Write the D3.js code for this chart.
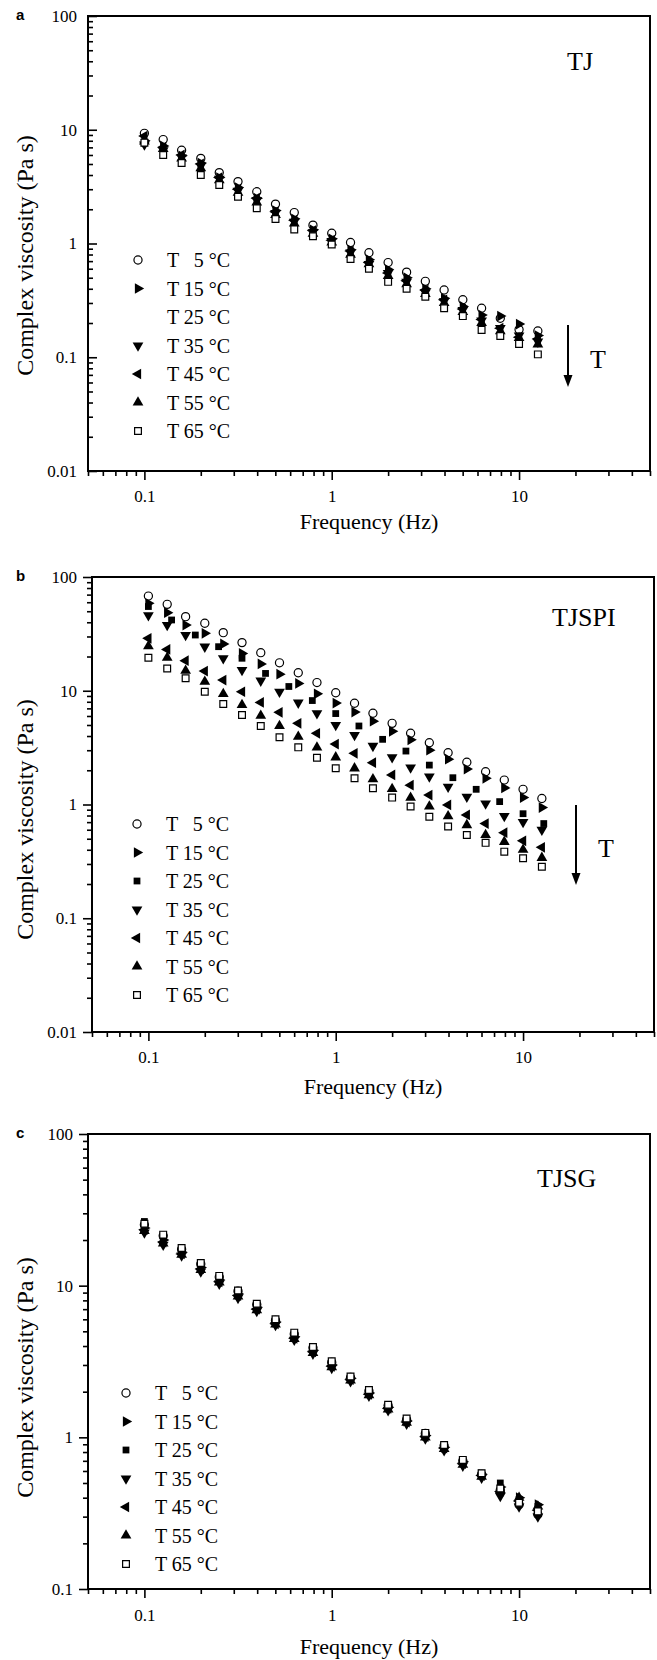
<!DOCTYPE html>
<html>
<head>
<meta charset="utf-8">
<script src="https://cdn.jsdelivr.net/npm/d3@7"></script>
<style>
  body { margin: 0; background: #fff; }
  svg text { font-family: "Liberation Serif", "Times New Roman", serif; fill: #000; }
  .tag { font-family: "Liberation Sans", Arial, sans-serif; font-weight: bold; }
</style>
</head>
<body>
<svg id="chart" width="657" height="1660"></svg>
<script>
// frequencies (Hz), 10 points per decade
const freq = [0.1, 0.126, 0.158, 0.2, 0.251, 0.316, 0.398, 0.501, 0.631, 0.794, 1, 1.26, 1.58, 2, 2.51, 3.16, 3.98, 5.01, 6.31, 7.94, 10, 12.6];
// TJSPI at 25 C was sampled on a coarser grid
const freqSpi25 = [0.1, 0.133, 0.178, 0.237, 0.316, 0.422, 0.562, 0.75, 1, 1.33, 1.78, 2.37, 3.16, 4.22, 5.62, 7.5, 10, 12.9];

const temps = [5, 15, 25, 35, 45, 55, 65];
const xTicks = [0.1, 1, 10];
const yTicksWide = [0.01, 0.1, 1, 10, 100];
const yTicksNarrow = [0.1, 1, 10, 100];

// panel a : TJ (no 25 C series in the figure)
const tj5  = [9.3, 8.2, 6.6, 5.6, 4.2, 3.5, 2.85, 2.22, 1.87, 1.45, 1.23, 1.02, 0.83, 0.68, 0.56, 0.465, 0.39, 0.32, 0.27, 0.22, 0.175, 0.17];
const tj15 = [8.0, 7.2, 5.9, 5.1, 3.8, 3.1, 2.5, 1.95, 1.65, 1.32, 1.1, 0.88, 0.72, 0.59, 0.5, 0.4, 0.33, 0.28, 0.235, 0.23, 0.196, 0.155];
const tj35 = [7.4, 6.6, 5.7, 4.8, 3.7, 2.9, 2.4, 1.85, 1.55, 1.25, 1.05, 0.83, 0.66, 0.55, 0.46, 0.37, 0.31, 0.26, 0.21, 0.18, 0.155, 0.137];
const tj45 = [8.8, 7.0, 6.0, 5.0, 3.8, 3.0, 2.5, 1.9, 1.6, 1.3, 1.07, 0.86, 0.68, 0.55, 0.47, 0.39, 0.32, 0.265, 0.215, 0.18, 0.15, 0.145];
const tj55 = [7.9, 6.8, 5.6, 4.6, 3.6, 2.8, 2.3, 1.78, 1.5, 1.22, 1.02, 0.8, 0.66, 0.52, 0.44, 0.36, 0.3, 0.25, 0.2, 0.17, 0.148, 0.13];
const tj65 = [7.7, 6.0, 5.1, 4.0, 3.27, 2.58, 2.04, 1.64, 1.33, 1.16, 0.98, 0.73, 0.6, 0.46, 0.4, 0.34, 0.27, 0.23, 0.174, 0.154, 0.131, 0.106];

// panel b : TJSPI
const spi5  = [68, 57.5, 44.8, 39.2, 32.4, 26.5, 21.6, 17.6, 14.4, 11.8, 9.6, 7.76, 6.34, 5.17, 4.23, 3.49, 2.85, 2.35, 1.94, 1.64, 1.36, 1.13];
const spi15 = [58.7, 48.6, 37.8, 32.0, 25.8, 21.3, 17.2, 14.0, 11.6, 9.4, 7.8, 6.5, 5.4, 4.4, 3.7, 3.0, 2.5, 2.05, 1.7, 1.4, 1.15, 0.94];
const spi25 = [55, 41.9, 30.9, 24.4, 19.3, 14.2, 10.9, 8.2, 6.3, 4.9, 3.74, 2.95, 2.22, 1.72, 1.36, 1.06, 0.83, 0.68];
const spi35 = [46, 37.8, 30.9, 24.4, 19.3, 15.2, 12.25, 9.8, 7.85, 6.34, 5.0, 4.08, 3.27, 2.6, 2.11, 1.76, 1.43, 1.17, 1.02, 0.79, 0.7, 0.6];
const spi45 = [28.9, 23.1, 18.4, 14.9, 12.4, 9.8, 7.9, 6.46, 5.17, 4.23, 3.4, 2.82, 2.33, 1.82, 1.48, 1.21, 0.99, 0.81, 0.68, 0.565, 0.48, 0.42];
const spi55 = [24.7, 19.5, 15.0, 12.0, 9.36, 7.5, 6.03, 4.9, 3.94, 3.18, 2.6, 2.08, 1.67, 1.37, 1.15, 0.96, 0.79, 0.66, 0.54, 0.47, 0.4, 0.34];
const spi65 = [19.5, 15.7, 12.9, 9.8, 7.65, 6.12, 4.9, 3.9, 3.18, 2.58, 2.08, 1.7, 1.39, 1.15, 0.96, 0.78, 0.64, 0.54, 0.46, 0.385, 0.337, 0.284];

// panel c : TJSG
const sg5  = [25.2, 21.3, 17.4, 13.9, 11.4, 9.2, 7.5, 5.9, 4.8, 3.9, 3.12, 2.48, 2.02, 1.62, 1.31, 1.06, 0.88, 0.70, 0.57, 0.45, 0.36, 0.31];
const sg15 = [24.0, 20.0, 16.6, 13.2, 10.9, 8.8, 7.2, 5.75, 4.6, 3.75, 3.0, 2.45, 1.96, 1.58, 1.28, 1.03, 0.86, 0.69, 0.57, 0.47, 0.40, 0.36];
const sg25 = [26.5, 20.5, 17.0, 13.5, 11.1, 9.0, 7.3, 5.85, 4.7, 3.8, 3.05, 2.48, 2.0, 1.6, 1.3, 1.05, 0.87, 0.70, 0.58, 0.50, 0.39, 0.35];
const sg35 = [22.4, 18.6, 15.8, 12.4, 10.3, 8.3, 6.8, 5.5, 4.4, 3.56, 2.86, 2.34, 1.88, 1.51, 1.23, 0.98, 0.82, 0.65, 0.54, 0.41, 0.35, 0.30];
const sg45 = [23.4, 19.4, 16.2, 12.9, 10.6, 8.6, 7.0, 5.6, 4.5, 3.66, 2.94, 2.4, 1.92, 1.55, 1.26, 1.01, 0.85, 0.67, 0.56, 0.44, 0.38, 0.33];
const sg55 = [23.0, 19.0, 16.0, 12.7, 10.5, 8.5, 6.9, 5.55, 4.45, 3.6, 2.9, 2.37, 1.9, 1.53, 1.25, 1.0, 0.84, 0.66, 0.55, 0.45, 0.40, 0.35];
const sg65 = [25.6, 21.7, 17.7, 14.1, 11.6, 9.3, 7.6, 6.0, 4.9, 3.94, 3.17, 2.52, 2.05, 1.64, 1.33, 1.07, 0.89, 0.71, 0.58, 0.46, 0.37, 0.325];

// marker kind per temperature (same order as temps)
const kinds = ["circle", "right", "square", "down", "left", "up", "openSquare"];

const svg = d3.select("#chart");

function markerPath(kind) {
  let type = kind === "circle" ? d3.symbolCircle
    : (kind === "square" || kind === "openSquare") ? d3.symbolSquare
    : d3.symbolTriangle;
  let size = kind === "circle" ? 52 : (kind === "square" || kind === "openSquare") ? 46 : 50;
  return d3.symbol().type(type).size(size)();
}
const rotation = {right: 90, down: 180, left: -90, up: 0};

function drawMarker(g, kind, x, y) {
  let open = kind === "circle" || kind === "openSquare";
  g.append("path")
    .attr("d", markerPath(kind))
    .attr("transform", "translate(" + x + "," + y + ")rotate(" + (rotation[kind] || 0) + ")")
    .attr("fill", open ? "#fff" : "#000")
    .attr("stroke", open ? "#000" : "none")
    .attr("stroke-width", 1.2);
}

function getScales(cfg) {
  let xScale = d3.scaleLog().domain([0.05, 50]).range([cfg.left, cfg.right]);
  let yScale = d3.scaleLog().domain(cfg.yDomain).range([cfg.bottom, cfg.top]);
  return {xScale, yScale};
}

function drawPanel(cfg) {
  let {xScale, yScale} = getScales(cfg);
  let g = svg.append("g").attr("class", "panel-" + cfg.tag);

  // y axis : major + minor ticks
  let yIn = cfg.yTickDir === "in";
  let yMinor = yScale.ticks().filter(v => !cfg.yTicks.some(t => Math.abs(t - v) / t < 1e-6));
  g.append("g")
    .attr("transform", "translate(" + cfg.left + ",0)")
    .call(d3.axisLeft(yScale).tickValues(yMinor).tickFormat("").tickSize(yIn ? -5 : 5).tickSizeOuter(0))
    .call(a => a.select(".domain").remove());
  g.append("g")
    .attr("transform", "translate(" + cfg.left + ",0)")
    .call(d3.axisLeft(yScale).tickValues(cfg.yTicks).tickFormat(d => String(d))
      .tickSize(yIn ? -9 : 9).tickPadding(cfg.yPad).tickSizeOuter(0))
    .call(a => a.select(".domain").remove())
    .call(a => a.selectAll("text").attr("font-size", 17).attr("font-family", null));

  // x axis : ticks point downward
  let xMinor = xScale.ticks().filter(v => !xTicks.some(t => Math.abs(t - v) / t < 1e-6));
  g.append("g")
    .attr("transform", "translate(0," + cfg.bottom + ")")
    .call(d3.axisBottom(xScale).tickValues(xMinor).tickFormat("").tickSize(5).tickSizeOuter(0))
    .call(a => a.select(".domain").remove());
  g.append("g")
    .attr("transform", "translate(0," + cfg.bottom + ")")
    .call(d3.axisBottom(xScale).tickValues(xTicks).tickFormat(d => String(d)).tickSize(9).tickSizeOuter(0))
    .call(a => a.select(".domain").remove())
    .call(a => a.selectAll("text").attr("font-size", 17).attr("font-family", null)
      .attr("dy", null).attr("y", cfg.xLabOff));

  g.selectAll(".tick line").attr("stroke", "#000").attr("stroke-width", 1.6);

  // frame
  g.append("rect")
    .attr("x", cfg.left).attr("y", cfg.top)
    .attr("width", cfg.right - cfg.left).attr("height", cfg.bottom - cfg.top)
    .attr("fill", "none").attr("stroke", "#000").attr("stroke-width", 2);

  // points
  cfg.series.forEach(s => {
    if (!s.values) return;
    s.values.forEach((v, i) => drawMarker(g, s.kind, xScale(s.freq[i]), yScale(v)));
  });

  // axis titles
  g.append("text")
    .attr("x", (cfg.left + cfg.right) / 2).attr("y", cfg.bottom + cfg.titleOff)
    .attr("text-anchor", "middle").attr("font-size", 22)
    .text("Frequency (Hz)");
  g.append("text")
    .attr("transform", "translate(33," + ((cfg.top + cfg.bottom) / 2 + cfg.yTitleDy) + ")rotate(-90)")
    .attr("text-anchor", "middle").attr("font-size", 24)
    .text("Complex viscosity (Pa s)");

  // panel letter and sample name
  g.append("text").attr("class", "tag")
    .attr("x", 16).attr("y", cfg.top + 4).attr("font-size", 15)
    .text(cfg.tag);
  g.append("text")
    .attr("x", cfg.nameX).attr("y", cfg.top + cfg.nameDy).attr("font-size", 26)
    .text(cfg.name);

  // legend
  cfg.series.forEach((s, i) => {
    let y = cfg.legY + i * 28.5;
    if (s.showMarker) drawMarker(g, s.kind, cfg.legX, y);
    let t = g.append("text").attr("x", cfg.legX + 29).attr("y", y + 7).attr("font-size", 20);
    t.text("T " + (s.temp < 10 ? "\u2007" : "") + s.temp + " \u00B0C");
  });

  // decreasing-with-temperature arrow
  if (cfg.arrow) {
    let {x, y1, y2} = cfg.arrow;
    g.append("line").attr("x1", x).attr("x2", x).attr("y1", y1).attr("y2", y2 - 8)
      .attr("stroke", "#000").attr("stroke-width", 2);
    g.append("path")
      .attr("d", "M" + (x - 4.5) + "," + (y2 - 12) + "L" + (x + 4.5) + "," + (y2 - 12) + "L" + x + "," + y2 + "Z")
      .attr("fill", "#000");
    g.append("text").attr("x", x + 22).attr("y", (y1 + y2) / 2 + 12).attr("font-size", 26).text("T");
  }
}

function makeSeries(arrs, freqs, hidden) {
  return temps.map((t, i) => ({
    temp: t,
    kind: kinds[i],
    values: arrs[i],
    freq: (freqs && freqs[i]) || freq,
    showMarker: !(hidden && hidden.includes(t))
  }));
}

drawPanel({
  tag: "a", name: "TJ", nameX: 567, nameDy: 54,
  left: 88, right: 650, top: 16, bottom: 471,
  yDomain: [0.01, 100], yTicks: yTicksWide, yTickDir: "in", yPad: 11,
  xLabOff: 31, titleOff: 58, yTitleDy: 12,
  legX: 138, legY: 260,
  arrow: {x: 568, y1: 325, y2: 387},
  series: makeSeries([tj5, tj15, null, tj35, tj45, tj55, tj65], null, [25])
});

drawPanel({
  tag: "b", name: "TJSPI", nameX: 552, nameDy: 49,
  left: 92, right: 654, top: 577, bottom: 1032,
  yDomain: [0.01, 100], yTicks: yTicksWide, yTickDir: "out", yPad: 6,
  xLabOff: 31, titleOff: 62, yTitleDy: 15,
  legX: 137, legY: 824,
  arrow: {x: 576, y1: 805, y2: 885},
  series: makeSeries([spi5, spi15, spi25, spi35, spi45, spi55, spi65], [null, null, freqSpi25])
});

drawPanel({
  tag: "c", name: "TJSG", nameX: 537, nameDy: 53,
  left: 88, right: 650, top: 1134, bottom: 1589,
  yDomain: [0.1, 100], yTicks: yTicksNarrow, yTickDir: "out", yPad: 6,
  xLabOff: 32, titleOff: 65, yTitleDy: 16,
  legX: 126, legY: 1393,
  arrow: null,
  series: makeSeries([sg5, sg15, sg25, sg35, sg45, sg55, sg65])
});
</script>
</body>
</html>
